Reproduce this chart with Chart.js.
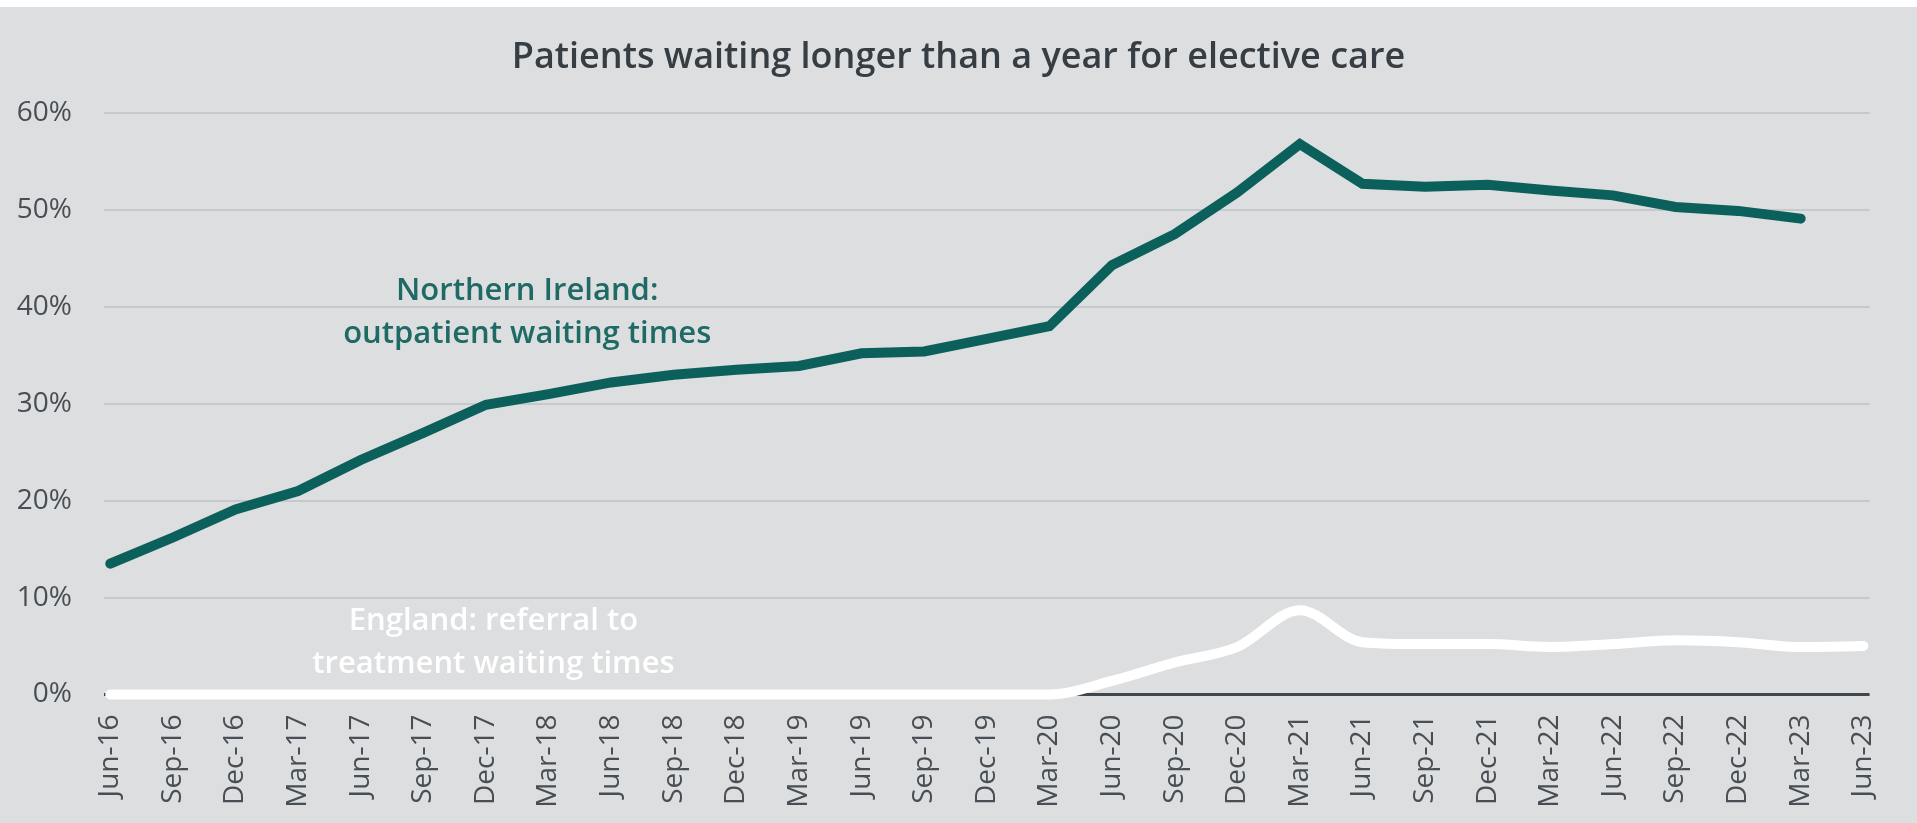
<!DOCTYPE html>
<html>
<head>
<meta charset="utf-8">
<script src="https://cdn.jsdelivr.net/npm/chart.js@4.4.0/dist/chart.umd.min.js"></script>
<style>
  html, body { margin: 0; padding: 0; background: #ffffff; }
  #wrap { position: absolute; left: 0; top: 7px; width: 1917px; height: 816px; background: #dcdee0; }
  canvas { display: block; }
</style>
</head>
<body>
<div id="wrap"><canvas id="chart" width="1917" height="816"></canvas></div>
<script>
// ---- Data ----
const categories = [
  'Jun-16','Sep-16','Dec-16',
  'Mar-17','Jun-17','Sep-17','Dec-17',
  'Mar-18','Jun-18','Sep-18','Dec-18',
  'Mar-19','Jun-19','Sep-19','Dec-19',
  'Mar-20','Jun-20','Sep-20','Dec-20',
  'Mar-21','Jun-21','Sep-21','Dec-21',
  'Mar-22','Jun-22','Sep-22','Dec-22',
  'Mar-23','Jun-23'
];
const northernIreland = [
  13.5, 16.2, 19.1,
  21.0, 24.2, 27.0, 29.9,
  31.0, 32.2, 33.0, 33.5,
  33.9, 35.2, 35.4, 36.7,
  38.0, 44.3, 47.5, 51.8,
  56.8, 52.7, 52.4, 52.6,
  52.0, 51.5, 50.3, 49.9,
  49.1, null
];
const england = [
  0, 0, 0,
  0, 0, 0, 0,
  0, 0, 0, 0,
  0, 0, 0, 0,
  0, 1.4, 3.3, 4.9,
  8.7, 5.4, 5.2, 5.2,
  4.9, 5.2, 5.6, 5.4,
  4.9, 5.0
];
const yTickValues = [0, 10, 20, 30, 40, 50, 60];
const titleText = 'Patients waiting longer than a year for elective care';
const niLabel = ['Northern Ireland:', 'outpatient waiting times'];
const englandLabel = ['England: referral to', 'treatment waiting times'];

// ---- Styling ----
const FONT = "'Open Sans', 'DejaVu Sans', sans-serif";
const TEAL = '#0c605b';
const TEAL_TEXT = '#1f6a65';
const TICK_COLOR = '#474e54';

const titlePlugin = {
  id: 'centeredTitle',
  afterDraw(chart) {
    const {ctx, width} = chart;
    ctx.save();
    ctx.font = `600 36px ${FONT}`;
    ctx.fillStyle = '#363e44';
    ctx.textAlign = 'center';
    ctx.textBaseline = 'middle';
    ctx.fillText(titleText, width / 2, 50.6);
    ctx.restore();
  }
};

const annotationPlugin = {
  id: 'textNotes',
  afterDatasetsDraw(chart) {
    const {ctx, scales: {x, y}} = chart;
    const notes = [
      {lines: niLabel, xv: 6.66, yv: 41.6, color: TEAL_TEXT},
      {lines: englandLabel, xv: 6.12, yv: 7.6, color: '#ffffff'}
    ];
    ctx.save();
    ctx.font = `600 31px ${FONT}`;
    ctx.textAlign = 'center';
    ctx.textBaseline = 'middle';
    notes.forEach(n => {
      const px = x.getPixelForValue(n.xv);
      const py = y.getPixelForValue(n.yv);
      ctx.fillStyle = n.color;
      n.lines.forEach((t, i) => ctx.fillText(t, px, py + i * 43));
    });
    ctx.restore();
  }
};

new Chart(document.getElementById('chart'), {
  type: 'line',
  data: {
    datasets: [
      {
        label: 'Northern Ireland: outpatient waiting times',
        data: northernIreland.map((v, i) => ({x: i, y: v})),
        borderColor: TEAL,
        borderWidth: 10,
        borderCapStyle: 'round',
        borderJoinStyle: 'miter',
        pointRadius: 0,
        tension: 0,
        spanGaps: false,
        clip: false
      },
      {
        label: 'England: referral to treatment waiting times',
        data: england.map((v, i) => ({x: i, y: v})),
        borderColor: '#ffffff',
        borderWidth: 10,
        borderCapStyle: 'round',
        borderJoinStyle: 'round',
        pointRadius: 0,
        cubicInterpolationMode: 'monotone',
        clip: false
      }
    ]
  },
  options: {
    responsive: false,
    animation: false,
    devicePixelRatio: 1,
    layout: { padding: { left: 0, right: 27, top: 106, bottom: 0 } },
    plugins: {
      legend: { display: false },
      tooltip: { enabled: false },
      title: { display: false }
    },
    scales: {
      x: {
        type: 'linear',
        min: -0.1,
        max: 28.1,
        grid: { display: false, drawTicks: false },
        border: { display: false },
        ticks: {
          stepSize: 1,
          includeBounds: false,
          autoSkip: false,
          maxTicksLimit: 100,
          minRotation: 90,
          maxRotation: 90,
          padding: 20,
          color: TICK_COLOR,
          font: { family: FONT, size: 28 },
          callback: (v) => categories[v] !== undefined && Number.isInteger(v) ? categories[v] : ''
        },
        afterFit: (s) => { s.height = 128.5; }
      },
      y: {
        min: 0,
        max: 60,
        afterBuildTicks: (s) => { s.ticks = yTickValues.map(v => ({value: v})); },
        grid: {
          drawTicks: false,
          color: (c) => c.tick && c.tick.value === 0 ? '#3e474d' : '#c6c9cc',
          lineWidth: (c) => c.tick && c.tick.value === 0 ? 3 : 2
        },
        border: { display: false },
        ticks: {
          padding: 32,
          color: TICK_COLOR,
          font: { family: FONT, size: 28 },
          callback: (v) => v + '%'
        },
        afterFit: (s) => { s.width = 104; }
      }
    }
  },
  plugins: [annotationPlugin, titlePlugin]
});
</script>
</body>
</html>
